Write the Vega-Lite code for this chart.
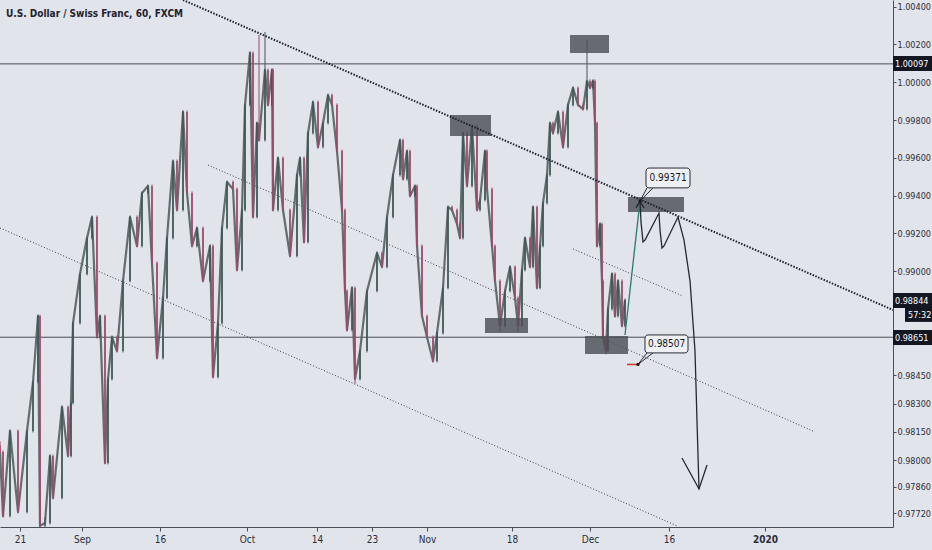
{
  "$schema": "https://vega.github.io/schema/vega-lite/v6.json",
  "width": 893,
  "height": 527,
  "autosize": {"type": "none"},
  "padding": {"left": 0, "top": 0, "right": 39, "bottom": 23},
  "background": "#e1e4eb",
  "config": {
    "view": {"stroke": null},
    "font": "Liberation Sans Narrow, DejaVu Sans Condensed, Liberation Sans, sans-serif"
  },
  "title": {
    "text": "U.S. Dollar / Swiss Franc, 60, FXCM",
    "anchor": "start",
    "frame": "group",
    "orient": "top",
    "offset": -19,
    "dx": 6,
    "fontSize": 10,
    "fontWeight": "bold",
    "color": "#1e222d"
  },
  "resolve": {"axis": {"x": "independent", "y": "independent"}},
  "datasets": {
    "candles": [
      {"b": 0, "o": 0.98080, "h": 0.98100, "l": 0.98030, "c": 0.98044},
      {"b": 9, "o": 0.98044, "h": 0.98052, "l": 0.97697, "c": 0.97705},
      {"b": 30, "o": 0.97705, "h": 0.98163, "l": 0.97697, "c": 0.98155},
      {"b": 54, "o": 0.98155, "h": 0.98163, "l": 0.97719, "c": 0.97727},
      {"b": 81, "o": 0.97727, "h": 0.98163, "l": 0.97719, "c": 0.98155},
      {"b": 99, "o": 0.98155, "h": 0.98422, "l": 0.98147, "c": 0.98414},
      {"b": 114, "o": 0.98414, "h": 0.98771, "l": 0.98406, "c": 0.98763},
      {"b": 120, "o": 0.98763, "h": 0.98771, "l": 0.97600, "c": 0.97653},
      {"b": 135, "o": 0.97653, "h": 0.97700, "l": 0.97610, "c": 0.97668},
      {"b": 150, "o": 0.97668, "h": 0.98031, "l": 0.97660, "c": 0.98023},
      {"b": 159, "o": 0.98023, "h": 0.98031, "l": 0.97793, "c": 0.97801},
      {"b": 186, "o": 0.97801, "h": 0.98290, "l": 0.97793, "c": 0.98282},
      {"b": 204, "o": 0.98282, "h": 0.98290, "l": 0.98015, "c": 0.98023},
      {"b": 213, "o": 0.98023, "h": 0.98311, "l": 0.98015, "c": 0.98303},
      {"b": 219, "o": 0.98303, "h": 0.98734, "l": 0.98295, "c": 0.98726},
      {"b": 240, "o": 0.98726, "h": 0.98994, "l": 0.98718, "c": 0.98986},
      {"b": 261, "o": 0.98986, "h": 0.99184, "l": 0.98978, "c": 0.99176},
      {"b": 276, "o": 0.99176, "h": 0.99295, "l": 0.99168, "c": 0.99287},
      {"b": 291, "o": 0.99287, "h": 0.99295, "l": 0.98644, "c": 0.98652},
      {"b": 300, "o": 0.98652, "h": 0.98771, "l": 0.98644, "c": 0.98763},
      {"b": 315, "o": 0.98763, "h": 0.98771, "l": 0.97978, "c": 0.97986},
      {"b": 324, "o": 0.97986, "h": 0.98438, "l": 0.97978, "c": 0.98430},
      {"b": 336, "o": 0.98430, "h": 0.98660, "l": 0.98422, "c": 0.98652},
      {"b": 351, "o": 0.98652, "h": 0.98660, "l": 0.98570, "c": 0.98578},
      {"b": 369, "o": 0.98578, "h": 0.98957, "l": 0.98570, "c": 0.98949},
      {"b": 390, "o": 0.98949, "h": 0.99295, "l": 0.98941, "c": 0.99287},
      {"b": 411, "o": 0.99287, "h": 0.99295, "l": 0.99126, "c": 0.99134},
      {"b": 426, "o": 0.99134, "h": 0.99422, "l": 0.99126, "c": 0.99414},
      {"b": 444, "o": 0.99414, "h": 0.99459, "l": 0.99406, "c": 0.99451},
      {"b": 456, "o": 0.99451, "h": 0.99459, "l": 0.99036, "c": 0.99044},
      {"b": 471, "o": 0.99044, "h": 0.99052, "l": 0.98533, "c": 0.98541},
      {"b": 489, "o": 0.98541, "h": 0.98867, "l": 0.98533, "c": 0.98859},
      {"b": 501, "o": 0.98859, "h": 0.99184, "l": 0.98851, "c": 0.99176},
      {"b": 519, "o": 0.99176, "h": 0.99591, "l": 0.99168, "c": 0.99583},
      {"b": 531, "o": 0.99583, "h": 0.99591, "l": 0.99316, "c": 0.99324},
      {"b": 549, "o": 0.99324, "h": 0.99851, "l": 0.99316, "c": 0.99843},
      {"b": 561, "o": 0.99843, "h": 0.99851, "l": 0.99406, "c": 0.99414},
      {"b": 576, "o": 0.99414, "h": 0.99422, "l": 0.99126, "c": 0.99134},
      {"b": 591, "o": 0.99134, "h": 0.99237, "l": 0.99126, "c": 0.99229},
      {"b": 609, "o": 0.99229, "h": 0.99237, "l": 0.98941, "c": 0.98949},
      {"b": 630, "o": 0.98949, "h": 0.99142, "l": 0.98941, "c": 0.99134},
      {"b": 639, "o": 0.99134, "h": 0.99142, "l": 0.98433, "c": 0.98441},
      {"b": 654, "o": 0.98441, "h": 0.98734, "l": 0.98433, "c": 0.98726},
      {"b": 666, "o": 0.98726, "h": 0.99237, "l": 0.98718, "c": 0.99229},
      {"b": 681, "o": 0.99229, "h": 0.99480, "l": 0.99221, "c": 0.99472},
      {"b": 699, "o": 0.99472, "h": 0.99480, "l": 0.99427, "c": 0.99435},
      {"b": 711, "o": 0.99435, "h": 0.99443, "l": 0.98999, "c": 0.99007},
      {"b": 726, "o": 0.99007, "h": 0.99332, "l": 0.98999, "c": 0.99324},
      {"b": 735, "o": 0.99324, "h": 0.99888, "l": 0.99316, "c": 0.99880},
      {"b": 750, "o": 0.99880, "h": 1.00163, "l": 0.99872, "c": 1.00155},
      {"b": 759, "o": 1.00155, "h": 1.00163, "l": 0.99279, "c": 0.99287},
      {"b": 771, "o": 0.99287, "h": 0.99792, "l": 0.99279, "c": 0.99784},
      {"b": 777, "o": 0.99784, "h": 1.00250, "l": 0.99686, "c": 0.99694},
      {"b": 795, "o": 0.99694, "h": 1.00266, "l": 0.99686, "c": 1.00065},
      {"b": 804, "o": 1.00065, "h": 1.00073, "l": 0.99872, "c": 0.99880},
      {"b": 816, "o": 0.99880, "h": 1.00073, "l": 0.99872, "c": 1.00065},
      {"b": 819, "o": 1.00065, "h": 1.00073, "l": 0.99316, "c": 0.99324},
      {"b": 834, "o": 0.99324, "h": 0.99607, "l": 0.99316, "c": 0.99599},
      {"b": 849, "o": 0.99599, "h": 0.99607, "l": 0.99316, "c": 0.99324},
      {"b": 870, "o": 0.99324, "h": 0.99332, "l": 0.99073, "c": 0.99081},
      {"b": 891, "o": 0.99081, "h": 0.99517, "l": 0.99073, "c": 0.99509},
      {"b": 900, "o": 0.99509, "h": 0.99607, "l": 0.99501, "c": 0.99599},
      {"b": 912, "o": 0.99599, "h": 0.99607, "l": 0.99147, "c": 0.99155},
      {"b": 924, "o": 0.99155, "h": 0.99739, "l": 0.99147, "c": 0.99731},
      {"b": 939, "o": 0.99731, "h": 0.99903, "l": 0.99723, "c": 0.99895},
      {"b": 954, "o": 0.99895, "h": 0.99903, "l": 0.99649, "c": 0.99657},
      {"b": 969, "o": 0.99657, "h": 0.99792, "l": 0.99649, "c": 0.99784},
      {"b": 984, "o": 0.99784, "h": 0.99940, "l": 0.99776, "c": 0.99932},
      {"b": 996, "o": 0.99932, "h": 0.99940, "l": 0.99872, "c": 0.99880},
      {"b": 1011, "o": 0.99880, "h": 0.99888, "l": 0.99628, "c": 0.99636},
      {"b": 1026, "o": 0.99636, "h": 0.99644, "l": 0.99316, "c": 0.99324},
      {"b": 1035, "o": 0.99324, "h": 0.99332, "l": 0.98888, "c": 0.98896},
      {"b": 1041, "o": 0.98896, "h": 0.98904, "l": 0.98681, "c": 0.98689},
      {"b": 1056, "o": 0.98689, "h": 0.98920, "l": 0.98681, "c": 0.98912},
      {"b": 1065, "o": 0.98912, "h": 0.98920, "l": 0.98405, "c": 0.98430},
      {"b": 1080, "o": 0.98430, "h": 0.98586, "l": 0.98422, "c": 0.98578},
      {"b": 1101, "o": 0.98578, "h": 0.98904, "l": 0.98570, "c": 0.98896},
      {"b": 1131, "o": 0.98896, "h": 0.99105, "l": 0.98888, "c": 0.99097},
      {"b": 1146, "o": 0.99097, "h": 0.99105, "l": 0.99015, "c": 0.99023},
      {"b": 1161, "o": 0.99023, "h": 0.99295, "l": 0.99015, "c": 0.99287},
      {"b": 1179, "o": 0.99287, "h": 0.99517, "l": 0.99279, "c": 0.99509},
      {"b": 1200, "o": 0.99509, "h": 0.99702, "l": 0.99501, "c": 0.99694},
      {"b": 1209, "o": 0.99694, "h": 0.99702, "l": 0.99480, "c": 0.99488},
      {"b": 1221, "o": 0.99488, "h": 0.99644, "l": 0.99480, "c": 0.99636},
      {"b": 1230, "o": 0.99636, "h": 0.99644, "l": 0.99390, "c": 0.99398},
      {"b": 1245, "o": 0.99398, "h": 0.99459, "l": 0.99390, "c": 0.99451},
      {"b": 1251, "o": 0.99451, "h": 0.99459, "l": 0.99126, "c": 0.99134},
      {"b": 1266, "o": 0.99134, "h": 0.99142, "l": 0.98755, "c": 0.98763},
      {"b": 1281, "o": 0.98763, "h": 0.98771, "l": 0.98644, "c": 0.98652},
      {"b": 1299, "o": 0.98652, "h": 0.98660, "l": 0.98517, "c": 0.98525},
      {"b": 1311, "o": 0.98525, "h": 0.98681, "l": 0.98517, "c": 0.98673},
      {"b": 1329, "o": 0.98673, "h": 0.98920, "l": 0.98665, "c": 0.98912},
      {"b": 1344, "o": 0.98912, "h": 0.99348, "l": 0.98904, "c": 0.99340},
      {"b": 1356, "o": 0.99340, "h": 0.99348, "l": 0.99316, "c": 0.99324},
      {"b": 1371, "o": 0.99324, "h": 0.99332, "l": 0.99242, "c": 0.99250},
      {"b": 1380, "o": 0.99250, "h": 0.99258, "l": 0.99168, "c": 0.99176},
      {"b": 1389, "o": 0.99176, "h": 0.99739, "l": 0.99168, "c": 0.99731},
      {"b": 1401, "o": 0.99731, "h": 0.99739, "l": 0.99443, "c": 0.99451},
      {"b": 1416, "o": 0.99451, "h": 0.99776, "l": 0.99443, "c": 0.99768},
      {"b": 1431, "o": 0.99768, "h": 0.99776, "l": 0.99316, "c": 0.99324},
      {"b": 1440, "o": 0.99324, "h": 0.99385, "l": 0.99316, "c": 0.99377},
      {"b": 1455, "o": 0.99377, "h": 0.99644, "l": 0.99369, "c": 0.99636},
      {"b": 1461, "o": 0.99636, "h": 0.99644, "l": 0.99427, "c": 0.99435},
      {"b": 1476, "o": 0.99435, "h": 0.99443, "l": 0.99126, "c": 0.99134},
      {"b": 1485, "o": 0.99134, "h": 0.99142, "l": 0.98941, "c": 0.98949},
      {"b": 1500, "o": 0.98949, "h": 0.98957, "l": 0.98680, "c": 0.98711},
      {"b": 1515, "o": 0.98711, "h": 0.98904, "l": 0.98703, "c": 0.98896},
      {"b": 1530, "o": 0.98896, "h": 0.99031, "l": 0.98888, "c": 0.99023},
      {"b": 1545, "o": 0.99023, "h": 0.99031, "l": 0.98851, "c": 0.98859},
      {"b": 1554, "o": 0.98859, "h": 0.98867, "l": 0.98680, "c": 0.98711},
      {"b": 1566, "o": 0.98711, "h": 0.99015, "l": 0.98703, "c": 0.99007},
      {"b": 1575, "o": 0.99007, "h": 0.99184, "l": 0.98999, "c": 0.99176},
      {"b": 1590, "o": 0.99176, "h": 0.99184, "l": 0.99015, "c": 0.99023},
      {"b": 1599, "o": 0.99023, "h": 0.99348, "l": 0.99015, "c": 0.99340},
      {"b": 1611, "o": 0.99340, "h": 0.99348, "l": 0.98904, "c": 0.98912},
      {"b": 1620, "o": 0.98912, "h": 0.99142, "l": 0.98904, "c": 0.99134},
      {"b": 1629, "o": 0.99134, "h": 0.99369, "l": 0.99126, "c": 0.99361},
      {"b": 1641, "o": 0.99361, "h": 0.99517, "l": 0.99353, "c": 0.99509},
      {"b": 1650, "o": 0.99509, "h": 0.99792, "l": 0.99501, "c": 0.99784},
      {"b": 1659, "o": 0.99784, "h": 0.99792, "l": 0.99723, "c": 0.99731},
      {"b": 1674, "o": 0.99731, "h": 0.99851, "l": 0.99723, "c": 0.99843},
      {"b": 1689, "o": 0.99843, "h": 0.99851, "l": 0.99649, "c": 0.99657},
      {"b": 1704, "o": 0.99657, "h": 0.99888, "l": 0.99649, "c": 0.99880},
      {"b": 1719, "o": 0.99880, "h": 0.99978, "l": 0.99872, "c": 0.99970},
      {"b": 1734, "o": 0.99970, "h": 0.99978, "l": 0.99872, "c": 0.99880},
      {"b": 1749, "o": 0.99880, "h": 0.99888, "l": 0.99850, "c": 0.99858},
      {"b": 1761, "o": 0.99858, "h": 1.00223, "l": 0.99850, "c": 1.00007},
      {"b": 1770, "o": 1.00007, "h": 1.00015, "l": 0.99962, "c": 0.99970},
      {"b": 1779, "o": 0.99970, "h": 1.00015, "l": 0.99962, "c": 1.00007},
      {"b": 1785, "o": 1.00007, "h": 1.00015, "l": 0.99776, "c": 0.99784},
      {"b": 1791, "o": 0.99784, "h": 0.99792, "l": 0.99126, "c": 0.99134},
      {"b": 1800, "o": 0.99134, "h": 0.99258, "l": 0.99126, "c": 0.99250},
      {"b": 1806, "o": 0.99250, "h": 0.99258, "l": 0.98941, "c": 0.98949},
      {"b": 1809, "o": 0.98949, "h": 0.98957, "l": 0.98644, "c": 0.98652},
      {"b": 1818, "o": 0.98652, "h": 0.98660, "l": 0.98560, "c": 0.98578},
      {"b": 1824, "o": 0.98578, "h": 0.98808, "l": 0.98570, "c": 0.98800},
      {"b": 1836, "o": 0.98800, "h": 0.98994, "l": 0.98792, "c": 0.98986},
      {"b": 1845, "o": 0.98986, "h": 0.98994, "l": 0.98755, "c": 0.98763},
      {"b": 1854, "o": 0.98763, "h": 0.98957, "l": 0.98755, "c": 0.98949},
      {"b": 1866, "o": 0.98949, "h": 0.98957, "l": 0.98703, "c": 0.98711},
      {"b": 1875, "o": 0.98711, "h": 0.98856, "l": 0.98703, "c": 0.98848}
    ],
    "levels": [{"p": 1.00097}, {"p": 0.98651}],
    "trend": [
      {"id": "a", "b": 549, "p": 1.00435, "b2": 2679, "p2": 0.98795},
      {"id": "b", "b": 624, "p": 0.99562, "b2": 2445, "p2": 0.98150},
      {"id": "c", "b": 0, "p": 0.99229, "b2": 2031, "p2": 0.97653},
      {"id": "d", "b": 1719, "p": 0.99118, "b2": 2049, "p2": 0.98869}
    ],
    "zones": [
      {"b": 1350, "b2": 1473, "p": 0.99827, "p2": 0.99716},
      {"b": 1710, "b2": 1827, "p": 1.00250, "p2": 1.00155},
      {"b": 1455, "b2": 1584, "p": 0.98753, "p2": 0.98673},
      {"b": 1755, "b2": 1884, "p": 0.98658, "p2": 0.98562},
      {"b": 1884, "b2": 2052, "p": 0.99393, "p2": 0.99314}
    ],
    "path": [
      {"g": "up", "k": 0, "b": 1875, "p": 0.98663},
      {"g": "up", "k": 1, "b": 1920, "p": 0.99371},
      {"g": "tip", "k": 0, "b": 1908, "p": 0.99335},
      {"g": "tip", "k": 1, "b": 1920, "p": 0.99371},
      {"g": "tip", "k": 2, "b": 1932, "p": 0.99335},
      {"g": "zig", "k": 0, "b": 1920, "p": 0.99371},
      {"g": "zig", "k": 1, "b": 1923, "p": 0.99261},
      {"g": "zig", "k": 2, "b": 1929, "p": 0.99155},
      {"g": "zig", "k": 3, "b": 1935, "p": 0.99165},
      {"g": "zig", "k": 4, "b": 1977, "p": 0.99308},
      {"g": "zig", "k": 5, "b": 1980, "p": 0.99218},
      {"g": "zig", "k": 6, "b": 1986, "p": 0.99123},
      {"g": "zig", "k": 7, "b": 1992, "p": 0.99134},
      {"g": "zig", "k": 8, "b": 2034, "p": 0.99287},
      {"g": "zig", "k": 9, "b": 2052, "p": 0.99165},
      {"g": "zig", "k": 10, "b": 2070, "p": 0.98949},
      {"g": "zig", "k": 11, "b": 2085, "p": 0.98578},
      {"g": "zig", "k": 12, "b": 2091, "p": 0.98208},
      {"g": "zig", "k": 13, "b": 2097, "p": 0.97848},
      {"g": "head", "k": 0, "b": 2046, "p": 0.98012},
      {"g": "head", "k": 1, "b": 2097, "p": 0.97848},
      {"g": "head", "k": 2, "b": 2121, "p": 0.97975}
    ],
    "callouts": [
      {"t": "0.99371", "b": 1938, "b2": 2070, "p": 0.99546, "p2": 0.99441, "bc": 2004, "pc": 0.99494},
      {"t": "0.98507", "b": 1935, "b2": 2064, "p": 0.98663, "p2": 0.98568, "bc": 2000, "pc": 0.98615}
    ],
    "pointers": [
      {"b": 1920, "p": 0.99371, "b2": 1941, "p2": 0.99441},
      {"b": 1920, "p": 0.99371, "b2": 1959, "p2": 0.99441},
      {"b": 1914, "p": 0.98507, "b2": 1941, "p2": 0.98568},
      {"b": 1914, "p": 0.98507, "b2": 1959, "p2": 0.98568}
    ],
    "marks": [
      {"b": 1920, "p": 0.99371},
      {"b": 1914, "p": 0.98507}
    ],
    "stop": [{"b": 1881, "b2": 1914, "p": 0.98507}],
    "tags": [
      {"t": "1.00097", "b": 2679, "b2": 2796, "p": 1.00139, "p2": 1.00059, "bt": 2685, "pc": 1.00097},
      {"t": "0.98844", "b": 2679, "b2": 2796, "p": 0.98885, "p2": 0.98806, "bt": 2685, "pc": 0.98844},
      {"t": "57:32", "b": 2715, "b2": 2796, "p": 0.98806, "p2": 0.98732, "bt": 2724, "pc": 0.98769},
      {"t": "0.98651", "b": 2679, "b2": 2796, "p": 0.98689, "p2": 0.98610, "bt": 2685, "pc": 0.98649}
    ]
  },
  "layer": [
    {
      "data": {"name": "levels"},
      "mark": {"type": "rule", "color": "#4a4d57", "strokeWidth": 1},
      "encoding": {
        "y": {"field": "p", "type": "quantitative", "scale": {"domain": [0.97647, 1.00435], "nice": false, "zero": false}, "axis": null}
      }
    },
    {
      "data": {"name": "trend"},
      "transform": [{"filter": "datum.id != 'a'"}],
      "mark": {"type": "rule", "color": "#3a3d46", "strokeWidth": 1, "strokeDash": [1, 2], "clip": true},
      "encoding": {
        "x": {"field": "b", "type": "quantitative", "scale": {"domain": [0, 2679], "nice": false, "zero": false}, "axis": null},
        "x2": {"field": "b2"},
        "y": {"field": "p", "type": "quantitative", "scale": {"domain": [0.97647, 1.00435], "nice": false, "zero": false}, "axis": null},
        "y2": {"field": "p2"}
      }
    },
    {
      "data": {"name": "candles"},
      "mark": {"type": "line", "color": "#4c585b", "strokeWidth": 2.2, "opacity": 0.85, "strokeJoin": "round", "clip": true},
      "encoding": {
        "x": {"field": "b", "type": "quantitative", "scale": {"domain": [0, 2679], "nice": false, "zero": false}, "axis": null},
        "y": {"field": "c", "type": "quantitative", "scale": {"domain": [0.97647, 1.00435], "nice": false, "zero": false}, "axis": null},
        "order": {"field": "b"}
      }
    },
    {
      "data": {"name": "candles"},
      "mark": {"type": "rule", "strokeWidth": 1, "clip": true},
      "encoding": {
        "x": {"field": "b", "type": "quantitative", "scale": {"domain": [0, 2679], "nice": false, "zero": false}, "axis": null},
        "y": {"field": "l", "type": "quantitative", "scale": {"domain": [0.97647, 1.00435], "nice": false, "zero": false}, "axis": null},
        "y2": {"field": "h"},
        "color": {"condition": {"test": "datum.c >= datum.o", "value": "#3f5858"}, "value": "#9c4a6c"}
      }
    },
    {
      "data": {"name": "candles"},
      "mark": {"type": "rule", "strokeWidth": 1.6, "clip": true},
      "encoding": {
        "x": {
          "field": "b", "type": "quantitative",
          "scale": {"domain": [0, 2679], "nice": false, "zero": false},
          "axis": {
            "title": null, "grid": false, "orient": "bottom",
            "values": [60, 246, 480, 741, 951, 1116, 1281, 1536, 1770, 2007, 2295],
            "labelExpr": "datum.value == 60 ? '21' : datum.value == 246 ? 'Sep' : datum.value == 480 ? '16' : datum.value == 741 ? 'Oct' : datum.value == 951 ? '14' : datum.value == 1116 ? '23' : datum.value == 1281 ? 'Nov' : datum.value == 1536 ? '18' : datum.value == 1770 ? 'Dec' : datum.value == 2007 ? '16' : '2020'",
            "labelFontWeight": {"condition": {"test": "datum.value == 2295", "value": "bold"}, "value": "normal"},
            "domainColor": "#4a4d57", "tickColor": "#4a4d57", "tickSize": 4,
            "labelFontSize": 10, "labelColor": "#2a2e39", "labelPadding": 3
          }
        },
        "y": {
          "field": "o", "type": "quantitative",
          "scale": {"domain": [0.97647, 1.00435], "nice": false, "zero": false},
          "axis": {
            "title": null, "grid": false, "orient": "right",
            "values": [1.004, 1.002, 1.0, 0.998, 0.996, 0.994, 0.992, 0.99, 0.9845, 0.983, 0.9815, 0.98, 0.9786, 0.9772],
            "format": ".5f",
            "domainColor": "#4a4d57", "tickColor": "#4a4d57", "tickSize": 3,
            "labelFontSize": 9, "labelColor": "#2a2e39", "labelPadding": 1
          }
        },
        "y2": {"field": "c"},
        "color": {"condition": {"test": "datum.c >= datum.o", "value": "#3f5858"}, "value": "#9c4a6c"}
      }
    },
    {
      "data": {"name": "zones"},
      "mark": {"type": "rect", "color": "#4c4f56", "opacity": 0.82},
      "encoding": {
        "x": {"field": "b", "type": "quantitative", "scale": {"domain": [0, 2679], "nice": false, "zero": false}, "axis": null},
        "x2": {"field": "b2"},
        "y": {"field": "p", "type": "quantitative", "scale": {"domain": [0.97647, 1.00435], "nice": false, "zero": false}, "axis": null},
        "y2": {"field": "p2"}
      }
    },
    {
      "data": {"name": "trend"},
      "transform": [{"filter": "datum.id == 'a'"}],
      "mark": {"type": "rule", "color": "#1e2029", "strokeWidth": 2, "strokeDash": [1.5, 1.5], "clip": true},
      "encoding": {
        "x": {"field": "b", "type": "quantitative", "scale": {"domain": [0, 2679], "nice": false, "zero": false}, "axis": null},
        "x2": {"field": "b2"},
        "y": {"field": "p", "type": "quantitative", "scale": {"domain": [0.97647, 1.00435], "nice": false, "zero": false}, "axis": null},
        "y2": {"field": "p2"}
      }
    },
    {
      "data": {"name": "path"},
      "mark": {"type": "line", "strokeWidth": 1.3, "clip": true},
      "encoding": {
        "x": {"field": "b", "type": "quantitative", "scale": {"domain": [0, 2679], "nice": false, "zero": false}, "axis": null},
        "y": {"field": "p", "type": "quantitative", "scale": {"domain": [0.97647, 1.00435], "nice": false, "zero": false}, "axis": null},
        "detail": {"field": "g"},
        "order": {"field": "k"},
        "color": {"condition": {"test": "datum.g == 'up'", "value": "#2b7a6c"}, "value": "#26282f"}
      }
    },
    {
      "data": {"name": "stop"},
      "mark": {"type": "rule", "color": "#d43a3a", "strokeWidth": 1.6},
      "encoding": {
        "x": {"field": "b", "type": "quantitative", "scale": {"domain": [0, 2679], "nice": false, "zero": false}, "axis": null},
        "x2": {"field": "b2"},
        "y": {"field": "p", "type": "quantitative", "scale": {"domain": [0.97647, 1.00435], "nice": false, "zero": false}, "axis": null}
      }
    },
    {
      "data": {"name": "pointers"},
      "mark": {"type": "rule", "color": "#2a2c33", "strokeWidth": 1},
      "encoding": {
        "x": {"field": "b", "type": "quantitative", "scale": {"domain": [0, 2679], "nice": false, "zero": false}, "axis": null},
        "x2": {"field": "b2"},
        "y": {"field": "p", "type": "quantitative", "scale": {"domain": [0.97647, 1.00435], "nice": false, "zero": false}, "axis": null},
        "y2": {"field": "p2"}
      }
    },
    {
      "data": {"name": "callouts"},
      "mark": {"type": "rect", "fill": "#eef0f4", "stroke": "#2a2c33", "strokeWidth": 1, "cornerRadius": 3},
      "encoding": {
        "x": {"field": "b", "type": "quantitative", "scale": {"domain": [0, 2679], "nice": false, "zero": false}, "axis": null},
        "x2": {"field": "b2"},
        "y": {"field": "p", "type": "quantitative", "scale": {"domain": [0.97647, 1.00435], "nice": false, "zero": false}, "axis": null},
        "y2": {"field": "p2"}
      }
    },
    {
      "data": {"name": "callouts"},
      "mark": {"type": "text", "fontSize": 10, "color": "#15171c", "align": "center", "baseline": "middle"},
      "encoding": {
        "x": {"field": "bc", "type": "quantitative", "scale": {"domain": [0, 2679], "nice": false, "zero": false}, "axis": null},
        "y": {"field": "pc", "type": "quantitative", "scale": {"domain": [0.97647, 1.00435], "nice": false, "zero": false}, "axis": null},
        "text": {"field": "t"}
      }
    },
    {
      "data": {"name": "marks"},
      "mark": {"type": "point", "filled": true, "size": 10, "color": "#15171c", "opacity": 1},
      "encoding": {
        "x": {"field": "b", "type": "quantitative", "scale": {"domain": [0, 2679], "nice": false, "zero": false}, "axis": null},
        "y": {"field": "p", "type": "quantitative", "scale": {"domain": [0.97647, 1.00435], "nice": false, "zero": false}, "axis": null}
      }
    },
    {
      "data": {"name": "tags"},
      "mark": {"type": "rect", "color": "#131722"},
      "encoding": {
        "x": {"field": "b", "type": "quantitative", "scale": {"domain": [0, 2679], "nice": false, "zero": false}, "axis": null},
        "x2": {"field": "b2"},
        "y": {"field": "p", "type": "quantitative", "scale": {"domain": [0.97647, 1.00435], "nice": false, "zero": false}, "axis": null},
        "y2": {"field": "p2"}
      }
    },
    {
      "data": {"name": "tags"},
      "mark": {"type": "text", "fontSize": 9, "color": "#ffffff", "align": "left", "baseline": "middle"},
      "encoding": {
        "x": {"field": "bt", "type": "quantitative", "scale": {"domain": [0, 2679], "nice": false, "zero": false}, "axis": null},
        "y": {"field": "pc", "type": "quantitative", "scale": {"domain": [0.97647, 1.00435], "nice": false, "zero": false}, "axis": null},
        "text": {"field": "t"}
      }
    }
  ]
}
